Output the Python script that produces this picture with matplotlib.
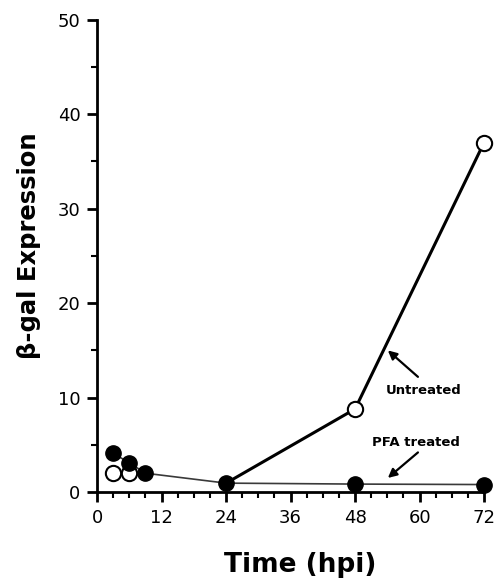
import matplotlib
matplotlib.use("Agg")
import matplotlib.pyplot as plt
from matplotlib.ticker import MultipleLocator

plt.rcParams['font.family'] = ['DejaVu Sans']

# Data
pfa_time = [3, 6, 9, 24, 48, 72]
pfa_expr = [4.1, 3.1, 2.0, 0.95, 0.85, 0.8]
untreated_time = [3, 6, 48, 72]
untreated_expr = [2.0, 2.0, 8.8, 37.0]
untreated_line_time = [24, 48, 72]
untreated_line_expr = [0.95, 8.8, 37.0]
xticks = [0, 12, 24, 36, 48, 60, 72]
yticks = [0, 10, 20, 30, 40, 50]

fig = plt.figure(figsize=(4.98, 5.81), dpi=100)
ax = fig.add_axes([0.195, 0.153, 0.777, 0.813])

# PFA treated thin line
ax.plot(pfa_time, pfa_expr, color='#3a3a3a', lw=1.2, ls='-', zorder=2, clip_on=False)
# Untreated thick line
ax.plot(untreated_line_time, untreated_line_expr, color='black', lw=2.2, zorder=2,
        clip_on=False)
# Markers
ax.plot(untreated_time, untreated_expr, ls='none', marker='o', ms=11,
        mfc='white', mec='black', mew=1.5, zorder=3, clip_on=False)
ax.plot(pfa_time, pfa_expr, ls='none', marker='o', ms=11,
        mfc='black', mec='black', zorder=4, clip_on=False)

ax.set_xlim(0, 72)
ax.set_ylim(0, 50)
ax.set_xticks(xticks)
ax.set_yticks(yticks)
ax.xaxis.set_minor_locator(MultipleLocator(3))
ax.yaxis.set_minor_locator(MultipleLocator(5))
ax.spines['top'].set_visible(False)
ax.spines['right'].set_visible(False)
for s in ('left', 'bottom'):
    ax.spines[s].set_linewidth(2)
ax.tick_params(axis='both', which='major', length=7, width=2, labelsize=13, pad=5)
ax.tick_params(axis='both', which='minor', length=4, width=1.5)

ax.set_xlabel('Time (hpi)', fontsize=19, fontweight='bold')
ax.set_ylabel('β-gal Expression', fontsize=17.5, fontweight='bold')
ax.xaxis.set_label_coords(0.525, -0.127)
ax.yaxis.set_label_coords(-0.145, 0.522)

arrow = dict(arrowstyle='-|>', color='black', lw=1.6, mutation_scale=13,
             shrinkA=0, shrinkB=0)
ax.text(60.7, 10.8, 'Untreated', fontsize=9.5, fontweight='bold',
        ha='center', va='center')
ax.annotate('', xy=(54.1, 15.0), xytext=(59.7, 12.2), arrowprops=arrow)
ax.text(59.3, 5.3, 'PFA treated', fontsize=9.5, fontweight='bold',
        ha='center', va='center')
ax.annotate('', xy=(54.1, 1.5), xytext=(59.7, 4.2), arrowprops=arrow)

fig.savefig('out.png', dpi=100)
